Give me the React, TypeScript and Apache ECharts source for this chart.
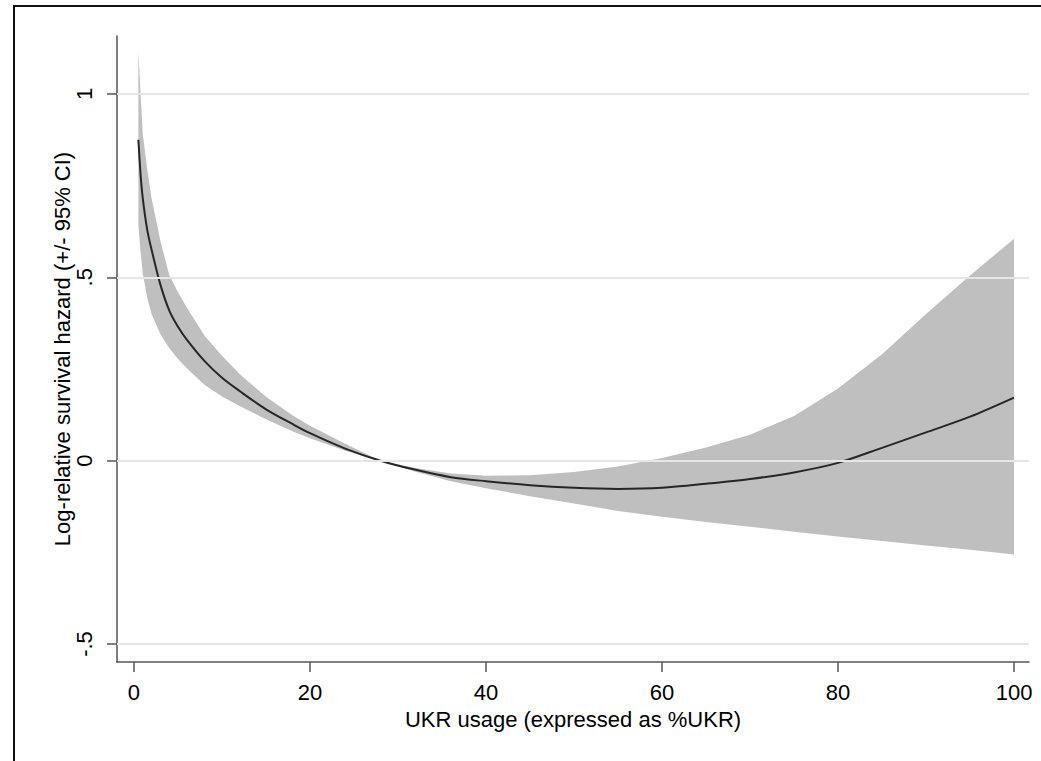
import React, { useEffect, useRef } from "react";
import * as echarts from "echarts";

// UKR usage (%)
const xValues = [0.5, 0.75, 1, 1.5, 2, 3, 4, 5, 6, 8, 10, 12, 15, 18, 20, 24, 28, 32, 36, 40, 45, 50, 55, 60, 65, 70, 75, 80, 85, 90, 95, 100];
// Log-relative survival hazard (point estimate)
const estimate = [0.875, 0.78, 0.715, 0.63, 0.575, 0.48, 0.41, 0.365, 0.33, 0.272, 0.226, 0.19, 0.14, 0.1, 0.075, 0.033, 0.0, -0.025, -0.045, -0.056, -0.067, -0.074, -0.077, -0.074, -0.063, -0.05, -0.032, -0.006, 0.035, 0.077, 0.12, 0.172];
// Upper 95% CI
const upperCI = [1.118, 1.0, 0.89, 0.795, 0.715, 0.6, 0.507, 0.459, 0.418, 0.341, 0.286, 0.236, 0.174, 0.124, 0.095, 0.046, 0.0, -0.02, -0.035, -0.041, -0.04, -0.031, -0.016, 0.007, 0.036, 0.071, 0.122, 0.197, 0.29, 0.4, 0.505, 0.605];
// Lower 95% CI
const lowerCI = [0.64, 0.57, 0.51, 0.445, 0.4, 0.345, 0.307, 0.277, 0.252, 0.207, 0.175, 0.149, 0.113, 0.08, 0.061, 0.027, 0.0, -0.03, -0.056, -0.075, -0.097, -0.117, -0.137, -0.153, -0.167, -0.18, -0.194, -0.207, -0.219, -0.231, -0.243, -0.256];

const xTicks = [0, 20, 40, 60, 80, 100];
const yTicks = [-0.5, 0, 0.5, 1];
const yTickLabels: Record<string, string> = { "-0.5": "-.5", "0": "0", "0.5": ".5", "1": "1" };

const xTitle = "UKR usage (expressed as %UKR)";
const yTitle = "Log-relative survival hazard (+/- 95% CI)";

const FONT = "'Liberation Sans', Arial, sans-serif";

export default function App() {
  const ref = useRef<HTMLDivElement>(null);

  useEffect(() => {
    if (!ref.current) return;
    const chart = echarts.init(ref.current, null, { renderer: "svg" });

    const linePts = xValues.map((x, i) => [x, estimate[i]]);

    const option: any = {
      animation: false,
      backgroundColor: "#ffffff",
      graphic: [
        {
          type: "rect",
          shape: { x: 14, y: 6, width: 1200, height: 1000 },
          style: { fill: "none", stroke: "#111111", lineWidth: 2 },
          silent: true,
          z: 0,
        },
      ],
      grid: { left: 117, top: 36, width: 912, height: 626, containLabel: false },
      xAxis: {
        type: "value",
        min: -1.93,
        max: 101.7,
        name: xTitle,
        nameLocation: "middle",
        nameGap: 46,
        nameMoveOverlap: false,
        nameTextStyle: { fontFamily: FONT, fontSize: 22, color: "#000" },
        axisLine: { show: true, onZero: false, lineStyle: { color: "#555555", width: 1.5 } },
        axisTick: { show: true, length: 10, customValues: xTicks, lineStyle: { color: "#555555", width: 1.5 } },
        axisLabel: { customValues: xTicks, margin: 19, fontFamily: FONT, fontSize: 22, color: "#000" },
        splitLine: { show: false },
      },
      yAxis: {
        type: "value",
        min: -0.549,
        max: 1.158,
        name: yTitle,
        nameLocation: "middle",
        nameGap: 44,
        nameMoveOverlap: false,
        nameRotate: 90,
        nameTextStyle: { fontFamily: FONT, fontSize: 22, color: "#000" },
        axisLine: { show: true, onZero: false, lineStyle: { color: "#555555", width: 1.5 } },
        axisTick: { show: true, length: 10, customValues: yTicks, lineStyle: { color: "#555555", width: 1.5 } },
        axisLabel: {
          customValues: yTicks,
          rotate: 90,
          margin: 22,
          fontFamily: FONT,
          fontSize: 22,
          color: "#000",
          formatter: (v: number) => yTickLabels[String(v)] ?? String(v),
        },
        splitLine: { show: false },
      },
      series: [
        {
          type: "line",
          data: [[50, 0]],
          symbol: "none",
          lineStyle: { opacity: 0 },
          silent: true,
          z: 1,
          markLine: {
            silent: true,
            symbol: ["none", "none"],
            label: { show: false },
            lineStyle: { color: "#e6e6e6", width: 2, type: "solid" },
            data: yTicks.map((v) => ({ yAxis: v })),
          },
        },
        {
          type: "custom",
          z: 2,
          silent: true,
          data: [[50, 0]],
          renderItem: (_params: any, api: any) => {
            const pts: number[][] = [];
            for (let i = 0; i < xValues.length; i++) pts.push(api.coord([xValues[i], upperCI[i]]));
            for (let i = xValues.length - 1; i >= 0; i--) pts.push(api.coord([xValues[i], lowerCI[i]]));
            return { type: "polygon", shape: { points: pts }, style: { fill: "#bfbfbf" } };
          },
        },
        {
          type: "line",
          z: 3,
          data: linePts,
          symbol: "none",
          smooth: 0.3,
          lineStyle: { color: "#262626", width: 2 },
        },
      ],
    };

    chart.setOption(option);
    return () => chart.dispose();
  }, []);

  return (
    <div
      ref={ref}
      style={{ position: "fixed", left: 0, top: 0, width: 1041, height: 761, background: "#fff" }}
    />
  );
}
